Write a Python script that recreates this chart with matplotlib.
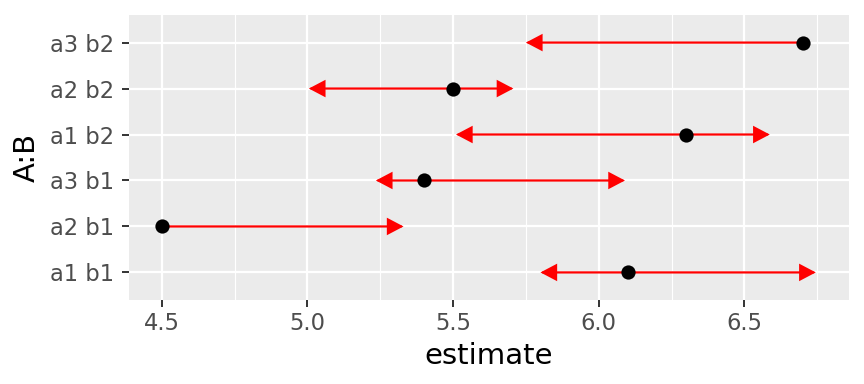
import numpy as np
import matplotlib
matplotlib.use("Agg")
import matplotlib.pyplot as plt
from matplotlib.patches import FancyArrowPatch
from matplotlib.ticker import MultipleLocator

categories = ["a1 b1", "a2 b1", "a3 b1", "a1 b2", "a2 b2", "a3 b2"]
estimate = [6.10, 4.50, 5.40, 6.30, 5.50, 6.70]
lower = [5.80, np.nan, 5.235, 5.51, 5.005, 5.75]
upper = [6.745, 5.33, 6.09, 6.587, 5.707, np.nan]
xticks = [4.5, 5.0, 5.5, 6.0, 6.5]

plt.rcParams['font.family'] = ['DejaVu Sans']
fig = plt.figure(figsize=(8.64, 3.84), dpi=100)
ax = fig.add_axes([129/864, 1-300/384, (848.5-129)/864, 285/384])
ax.set_facecolor("#EBEBEB")
for s in ax.spines.values():
    s.set_visible(False)

y = np.arange(len(categories))
allx = [v for v in estimate + lower + upper if not np.isnan(v)]
lo, hi = min(allx), max(allx)
pad = (hi - lo) * 0.05
ax.set_xlim(lo - pad, hi + pad)
ax.set_ylim(-0.6, len(categories) - 0.4)

ax.set_xticks(xticks)
ax.xaxis.set_minor_locator(MultipleLocator(0.25))
ax.set_yticks(y)
ax.set_yticklabels(categories)
ax.set_xticklabels([f"{v:.1f}" for v in xticks])
ax.grid(which="major", color="white", linewidth=1.6)
ax.grid(which="minor", axis="x", color="white", linewidth=0.8)
ax.set_axisbelow(True)
ax.tick_params(axis="both", which="major", length=5, width=1.4, color="#333333",
               labelcolor="#4D4D4D", labelsize=16.3)
ax.tick_params(axis="x", which="major", pad=4)
ax.tick_params(axis="y", which="major", pad=5.5)
ax.tick_params(axis="x", which="minor", length=0)

for yi, e, l, u in zip(y, estimate, lower, upper):
    for end in (l, u):
        if np.isnan(end):
            continue
        arr = FancyArrowPatch((e, yi), (end, yi), arrowstyle="-|>,head_length=0.95,head_width=0.5",
                              mutation_scale=10, color="red", linewidth=1.6,
                              shrinkA=0, shrinkB=0, zorder=2, joinstyle="miter")
        ax.add_patch(arr)

ax.scatter(estimate, y, s=105, color="black", zorder=3, linewidths=0)

ax.set_xlabel("estimate", fontsize=21, color="black", labelpad=5)
ax.set_ylabel("A:B", fontsize=21, color="black", labelpad=7)

fig.savefig("out.png", dpi=100)
